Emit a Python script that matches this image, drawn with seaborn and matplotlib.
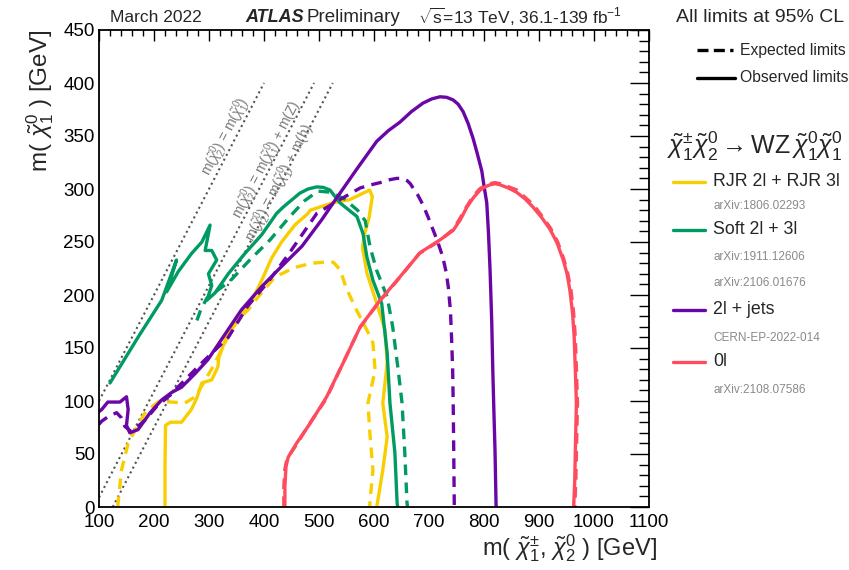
import numpy as np
import pandas as pd
import matplotlib
matplotlib.use("Agg")
import matplotlib.pyplot as plt
import seaborn as sns
from matplotlib.lines import Line2D
from matplotlib.ticker import MultipleLocator

# ---------------- data (GeV) ----------------
GREEN_OBS_X = [120, 172, 214, 241, 223, 244, 268, 287, 302, 293, 305, 314, 299, 305, 296, 311, 335, 365, 396, 423,
               435, 465, 480, 496, 508, 520, 538, 569, 580, 587, 598, 614, 624, 629, 638, 642, 643]
GREEN_OBS_Y = [117, 161, 195, 233, 203, 222, 239, 250, 266, 242, 242, 233, 220, 209, 195, 202, 220, 239, 257, 277,
               283, 296, 300, 302, 301.5, 299, 287, 274, 258, 236, 214, 192, 145, 98, 51, 4, 0]

GREEN_EXP_X = [278, 285, 296, 338, 374, 411, 447, 474, 498, 520, 545, 570, 584, 593, 605, 624, 634, 644, 651, 656, 660, 661]
GREEN_EXP_Y = [176, 186, 197, 213, 233, 252, 274, 289, 298, 297, 291, 280, 270, 245, 223, 198, 170, 129, 98, 51, 4, 0]

YELLOW_OBS_X = [220, 220, 221, 230, 250, 268, 278, 287, 305, 316, 318, 332, 353, 378, 396, 414, 432, 456, 480, 484,
                525, 556, 592, 597, 591, 583, 579, 587, 605, 620, 624, 616, 624, 616, 605]
YELLOW_OBS_Y = [0, 40, 77, 80, 80, 92, 103, 117, 120, 132, 141, 161, 176, 195, 214, 235, 250, 266, 277, 280,
                287, 290, 299, 293, 273, 258, 245, 221, 192, 167, 136, 98, 66, 35, 0]

YELLOW_EXP_X = [134, 141, 153, 165, 185, 210, 232, 256, 275, 290, 310, 330, 347, 371, 389, 420, 456, 487, 510, 526,
                538, 550, 568, 587, 598, 602, 589, 593, 598, 593, 592]
YELLOW_EXP_Y = [0, 35, 60, 72, 90, 100, 99, 98, 104, 117, 135, 156, 174, 186, 198, 217, 226, 230, 231, 231,
                224, 206, 186, 167, 155, 129, 98, 66, 35, 7, 0]

PURPLE_OBS_X = [100, 105, 116, 138, 150, 153, 150, 156, 171, 193, 214, 232, 250, 275, 298, 359, 396, 432, 469, 505,
                526, 569, 605, 626, 647, 668, 689, 705, 720, 732, 744, 753, 762, 771, 780, 788, 796, 800, 805, 808,
                811, 814, 816, 818, 820, 821, 822]
PURPLE_OBS_Y = [90, 92, 99, 99, 104, 92, 77, 70, 73, 89, 101, 108, 113, 126, 139, 186, 208, 227, 246, 271,
                287, 319, 345, 355, 363, 373, 381, 385, 387, 386.5, 384, 380, 373, 362, 348, 333, 317, 303, 287, 260,
                224, 176, 129, 90, 54, 27, 0]

PURPLE_EXP_X = [100, 105, 116, 132, 141, 147, 159, 184, 205, 226, 287, 335, 371, 407, 444, 496, 538, 575, 595, 611,
                626, 641, 651, 660, 666, 671, 680, 689, 698, 707, 716, 725, 731, 735, 739, 741, 743, 744, 745, 746]
PURPLE_EXP_Y = [78, 81, 85, 89, 84, 76, 71, 82, 95, 104, 136, 160, 190, 212, 238, 277, 290, 301, 304, 306,
                308.5, 310, 310, 308, 305, 301, 294, 285, 274, 262, 250, 236, 222, 208, 185, 160, 130, 98, 51, 0]

RED_OBS_X = [438, 438, 440, 444, 459, 484, 514, 544, 575, 611, 647, 684, 720, 744, 757, 769, 781, 793, 802, 811,
             820, 829, 844, 859, 874, 889, 905, 920, 933, 944, 951, 956, 961, 964, 966, 968, 967, 966, 965, 963]
RED_OBS_Y = [0, 20, 38, 47, 60, 79, 104, 136, 170, 195, 217, 240, 252, 261, 271, 283, 292, 299, 302, 304,
             305, 304, 301, 297, 291, 283, 273, 262, 249, 233, 220, 205, 183, 160, 130, 98, 75, 51, 25, 0]

RED_EXP_X = [436, 436, 438, 442, 458, 482, 513, 543, 574, 610, 646, 682, 719, 744, 756, 768, 780, 792, 801, 810,
             820, 830, 845, 860, 875, 890, 906, 921, 934, 945, 952, 958, 963, 966, 968, 970, 969, 968, 967, 965]
RED_EXP_Y = [0, 18, 36, 46, 58, 78, 102, 135, 169, 194, 216, 239, 251, 262, 272, 283, 293, 300, 303, 305,
             306, 305, 302, 299, 292, 285, 274, 263, 250, 234, 221, 205, 183, 160, 130, 98, 75, 51, 25, 0]

# kinematic boundary lines
DIAG_OFFSETS = [0, 91, 125]          # m(chi2) = m(chi1) + offset
DIAG_X0 = [100, 100, 125]
DIAG_X1 = [400, 491, 525]
DIAG_LABELS = [r"m($\tilde{\chi}_2^0$) = m($\tilde{\chi}_1^0$)",
               r"m($\tilde{\chi}_2^0$) = m($\tilde{\chi}_1^0$) + m(Z)",
               r"m($\tilde{\chi}_2^0$) = m($\tilde{\chi}_1^0$) + m(h)"]

SERIES_NAMES = ["RJR 2l + RJR 3l", "Soft 2l + 3l", "2l + jets", "0l"]
SERIES_REFS = [["arXiv:1806.02293"], ["arXiv:1911.12606", "arXiv:2106.01676"],
               ["CERN-EP-2022-014"], ["arXiv:2108.07586"]]
COLORS = ["#F8CE00", "#009B62", "#6A06A6", "#FF4B5E"]

XTICKS = list(range(100, 1101, 100))
YTICKS = list(range(0, 451, 50))

# ---------------- style ----------------
sns.set_style("white")
plt.rcParams['font.family'] = ['Liberation Sans', 'DejaVu Sans']
plt.rcParams['mathtext.fontset'] = 'custom'
plt.rcParams['mathtext.rm'] = 'Liberation Sans'
plt.rcParams['mathtext.it'] = 'Liberation Sans:italic'
plt.rcParams['mathtext.bf'] = 'Liberation Sans:bold'

W, H = 849, 570
fig = plt.figure(figsize=(W / 100, H / 100), dpi=100)
fig.patch.set_facecolor("white")
ax = fig.add_axes([99 / W, 63 / H, 550 / W, 477 / H])


def fx(p):
    return p / W


def fy(p):
    return 1 - p / H


LW = 2.4
DASH = (0, (3.2, 2.2))

# diagonal lines
for off, x0, x1, lab in zip(DIAG_OFFSETS, DIAG_X0, DIAG_X1, DIAG_LABELS):
    d = pd.DataFrame({"x": [x0, x1], "y": [x0 - off, x1 - off]})
    sns.lineplot(data=d, x="x", y="y", ax=ax, color="#555555", lw=1.5,
                 ls=(0, (1, 1.6)), sort=False, estimator=None, legend=False)

label_pos = [(331, 349), (405, 328), (429, 306)]
for (lx, ly), lab in zip(label_pos, DIAG_LABELS):
    ax.text(lx, ly, lab, rotation=45, transform_rotates_text=True, rotation_mode="anchor",
            ha="center", va="center", color="#7a7a7a", fontsize=10)

curves = [
    (YELLOW_EXP_X, YELLOW_EXP_Y, COLORS[0], DASH),
    (YELLOW_OBS_X, YELLOW_OBS_Y, COLORS[0], "-"),
    (GREEN_EXP_X, GREEN_EXP_Y, COLORS[1], DASH),
    (GREEN_OBS_X, GREEN_OBS_Y, COLORS[1], "-"),
    (PURPLE_EXP_X, PURPLE_EXP_Y, COLORS[2], DASH),
    (PURPLE_OBS_X, PURPLE_OBS_Y, COLORS[2], "-"),
    (RED_EXP_X, RED_EXP_Y, COLORS[3], DASH),
    (RED_OBS_X, RED_OBS_Y, COLORS[3], "-"),
]
for xs, ys, c, ls in curves:
    d = pd.DataFrame({"x": xs, "y": ys})
    sns.lineplot(data=d, x="x", y="y", ax=ax, color=c, lw=LW, ls=ls,
                 sort=False, estimator=None, legend=False,
                 solid_joinstyle="round", dash_joinstyle="round")

ax.set_xlim(100, 1100)
ax.set_ylim(0, 450)
ax.set_xticks(XTICKS)
ax.set_yticks(YTICKS)
ax.xaxis.set_minor_locator(MultipleLocator(20))
ax.yaxis.set_minor_locator(MultipleLocator(10))
ax.tick_params(axis="both", which="both", direction="in", top=True, right=True,
               colors="black", labelsize=13.5, width=1.0)
ax.tick_params(axis="x", which="major", length=8, pad=5)
ax.tick_params(axis="x", which="minor", length=4)
ax.tick_params(axis="y", which="major", length=14, pad=3)
ax.tick_params(axis="y", which="minor", length=7)
for s in ax.spines.values():
    s.set_color("black")
    s.set_linewidth(1.3)
ax.set_xlabel("")
ax.set_ylabel("")

# axis titles
fig.text(fx(657), fy(548), r"m( $\tilde{\chi}_1^{\pm}$, $\tilde{\chi}_2^0$ ) [GeV]", ha="right", va="center",
         fontsize=17)
fig.text(fx(40), fy(30), r"m( $\tilde{\chi}_1^0$ ) [GeV]", rotation=90, ha="center", va="top", fontsize=17.5)

# header
fig.text(fx(110), fy(17), "March 2022", fontsize=12.5, va="center")
fig.text(fx(245), fy(17), "ATLAS", fontsize=13, va="center", fontweight="bold", fontstyle="italic")
fig.text(fx(306), fy(17), "Preliminary", fontsize=13.5, va="center")
fig.text(fx(418), fy(17), r"$\sqrt{\mathrm{s}}$=13 TeV, 36.1-139 fb$^{-1}$", fontsize=12.5, va="center")
fig.text(fx(676), fy(17), "All limits at 95% CL", fontsize=14, va="center")

# legend
fig.add_artist(Line2D([fx(697), fx(735)], [fy(50), fy(50)], transform=fig.transFigure, color="black",
                      lw=LW, ls=(0, (3.3, 1.6, 3.3, 1.6, 1, 1.6))))
fig.text(fx(740), fy(50), "Expected limits", fontsize=11.3, va="center")
fig.add_artist(Line2D([fx(697), fx(735)], [fy(78), fy(78)], transform=fig.transFigure, color="black", lw=LW))
fig.text(fx(740), fy(78), "Observed limits", fontsize=11.3, va="center")

fig.text(fx(667), fy(146), r"$\tilde{\chi}_1^{\pm}\tilde{\chi}_2^0 \rightarrow \mathrm{WZ}\,\tilde{\chi}_1^0\tilde{\chi}_1^0$",
         fontsize=18, va="center")

entry_y = [182, 230, 310, 362]
ref_y = [[206], [257, 283], [338], [390]]
for name, refs, c, ey, rys in zip(SERIES_NAMES, SERIES_REFS, COLORS, entry_y, ref_y):
    fig.add_artist(Line2D([fx(673), fx(705)], [fy(ey), fy(ey)], transform=fig.transFigure, color=c, lw=LW))
    fig.text(fx(713), fy(ey), name, fontsize=12.8, va="center")
    for r, ry in zip(refs, rys):
        fig.text(fx(713), fy(ry), r, fontsize=8.5, va="center", color="#8a8a8a")

fig.savefig("out.png", dpi=100, facecolor="white")
